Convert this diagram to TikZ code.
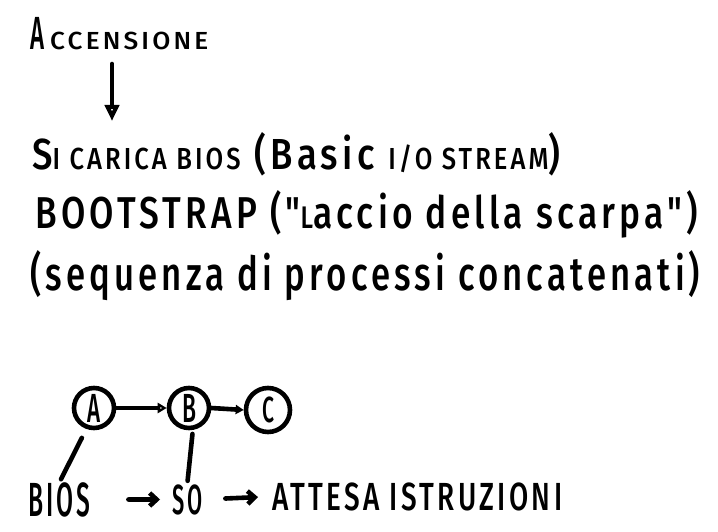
\documentclass[tikz,border=0pt]{standalone}
\usepackage{fontspec}
\usepackage{graphicx}
\usetikzlibrary{arrows.meta}
\newfontfamily\hand[LetterSpace=12]{Fira Sans Medium}
\newcommand{\sm}{\fontsize{7}{8}\selectfont}
\newcommand{\capbox}[1]{\smash{#1}\rule{0pt}{0.689em}}
\tikzset{
  ink/.style={line width=4.6pt, line cap=round, line join=round},
  txt/.style={anchor=base west, inner sep=0pt, font=\hand},
  circ/.style={circle, draw, ink, minimum size=40pt, inner sep=0pt, font=\hand},
  openarr/.style={ink, -{Triangle[open, length=9pt, width=10pt]}},
  fillarr/.style={ink, -{Triangle[length=8pt, width=9pt]}},
  barb/.style={ink, -{Straight Barb[length=7pt, width=13pt]}}
}
\begin{document}
\begin{tikzpicture}[x=1pt, y=-1pt]
\useasboundingbox[fill=white] (0,0) rectangle (718,532);
% texts
\node[txt] (acc) at (30,50) {\resizebox{14pt}{32pt}{\capbox{A}}\hspace{6pt}\resizebox{158pt}{17pt}{\capbox{CCENSIONE}}};
\node[txt] (l2) at (32,170) {\resizebox{528pt}{37pt}{S{\sm I CARICA BIOS} (B{asic} {\sm I/O STREAM})}};
\node[txt] (l3) at (35,228) {\resizebox{663pt}{38pt}{BOOTSTRAP ("{\sm L}accio della scarpa")}};
\node[txt] (l4) at (30,290) {\resizebox{670pt}{40pt}{(sequenza di processi concatenati)}};
% top arrow
\coordinate (t1) at (112,64);
\coordinate (t2) at (112,121);
\draw[ink, -{Triangle[open, length=16pt, width=14pt]}] (t1) -- (t2);
% circles
\node[circ] (A) at (94,408) {\resizebox{13pt}{28pt}{\capbox{A}}};
\node[circ] (B) at (189,408) {\resizebox{14pt}{28pt}{\capbox{B}}};
\node[circ, minimum size=44pt] (C) at (268,410) {\resizebox{12pt}{25pt}{\capbox{C}}};
\draw[openarr] (A.east) -- (B.west);
\draw[fillarr] (B.east) -- (C.west);
% bottom text
\node[txt] (bios) at (28,516) {\resizebox{62pt}{33pt}{\capbox{BIOS}}};
\node[txt] (so) at (172,514) {\resizebox{30pt}{29pt}{\capbox{SO}}};
\node[txt] (att) at (272,510) {\resizebox{290pt}{27pt}{\capbox{ATTESA ISTRUZIONI}}};
\draw[ink, shorten <=10pt, shorten >=4pt] (A.250) -- (bios.north);
\draw[ink, shorten <=4pt, shorten >=4pt] (B.280) -- (so.north);
\draw[barb, shorten <=38pt, shorten >=12pt] (bios.east) -- (so.west);
\draw[barb, shorten <=23pt, shorten >=14pt] (so.east) -- (att.west);
\end{tikzpicture}
\end{document}
